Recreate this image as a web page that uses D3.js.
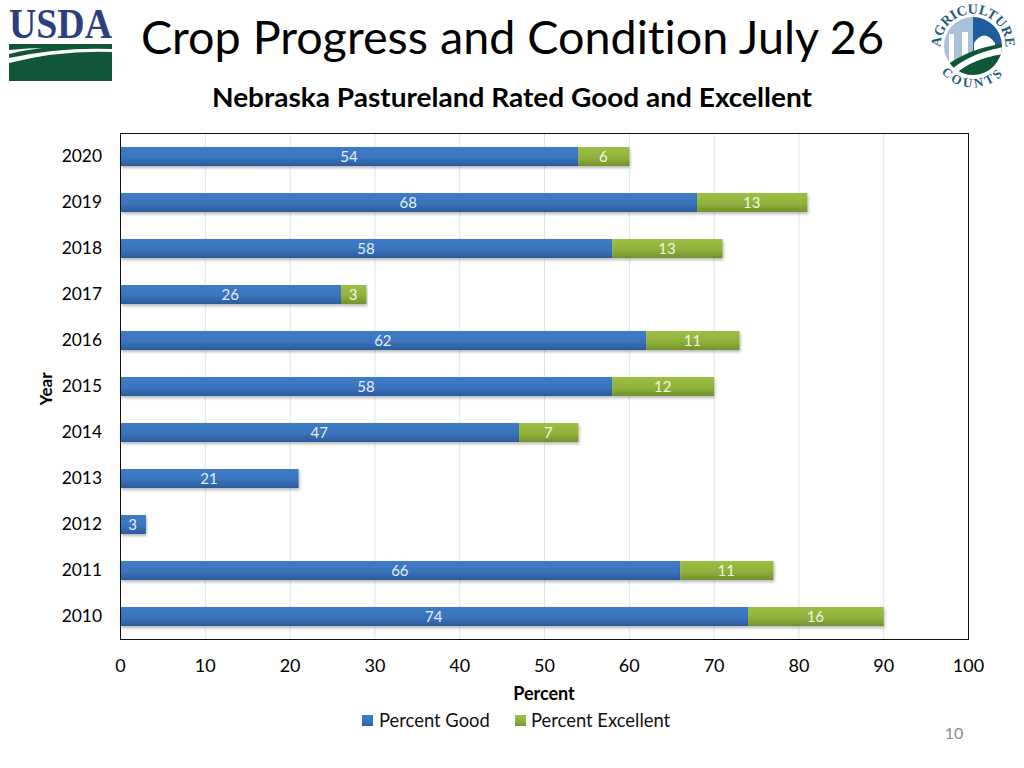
<!DOCTYPE html>
<html><head><meta charset="utf-8">
<script src="https://cdn.jsdelivr.net/npm/d3@7"></script>
<style>html,body{margin:0;padding:0;background:#fff}svg{display:block}text{font-family:Lato,"Open Sans",sans-serif;font-variant-ligatures:none}</style>
</head><body><div id="c"></div>
<script>
const years=["2020","2019","2018","2017","2016","2015","2014","2013","2012","2011","2010"];
const good=[54,68,58,26,62,58,47,21,3,66,74];
const excellent=[6,13,13,3,11,12,7,0,0,11,16];
const xTicks=[0,10,20,30,40,50,60,70,80,90,100];
const titleText="Crop Progress and Condition July 26";
const subtitleText="Nebraska Pastureland Rated Good and Excellent";
const pageNumber="10";

const svg=d3.select("#c").append("svg").attr("width",1024).attr("height",768);
const defs=svg.append("defs");
function grad(id,stops){const g=defs.append("linearGradient").attr("id",id).attr("x1",0).attr("y1",0).attr("x2",0).attr("y2",1);
 stops.forEach(s=>g.append("stop").attr("offset",s[0]).attr("stop-color",s[1]));}
grad("gb",[[0,"#3f7cc6"],[0.55,"#3a74bd"],[1,"#2a5b9b"]]);
grad("gg",[[0,"#9cbf45"],[0.55,"#90b23c"],[1,"#71922d"]]);
const f=defs.append("filter").attr("id","sh").attr("x","-5%").attr("y","-30%").attr("width","110%").attr("height","170%");
f.append("feDropShadow").attr("dx",1).attr("dy",2).attr("stdDeviation",1.5).attr("flood-color","#000").attr("flood-opacity",0.28);

const x=d3.scaleLinear().domain([0,100]).range([120,968]);
const y=d3.scaleBand().domain(years).range([133.5,639.5]).paddingInner(27/46).paddingOuter(13.5/46);

// Titles
svg.append("text").attr("x",141).attr("y",54).attr("font-size",47).attr("fill","#000")
 .attr("textLength",743).attr("lengthAdjust","spacingAndGlyphs").text(titleText);
svg.append("text").attr("x",212).attr("y",107).attr("font-size",27).attr("font-weight",700).attr("fill","#000")
 .attr("textLength",600).attr("lengthAdjust","spacingAndGlyphs").text(subtitleText);

// Grid
svg.append("g").attr("transform","translate(0.5,0)").selectAll("line").data(xTicks.slice(1,-1)).join("line")
 .attr("x1",d=>x(d)).attr("x2",d=>x(d)).attr("y1",133).attr("y2",639).attr("stroke","#dce6ea").attr("stroke-width",1);

// Bars
const rows=years.map((k,i)=>({k,g:good[i],e:excellent[i]}));
const bars=svg.append("g").attr("transform","translate(0.5,0)");
bars.selectAll("rect.g").data(rows).join("rect").attr("class","g")
 .attr("x",x(0)).attr("y",d=>y(d.k)).attr("width",d=>x(d.g)-x(0)).attr("height",y.bandwidth())
 .attr("fill","url(#gb)").attr("filter","url(#sh)");
bars.selectAll("rect.e").data(rows.filter(d=>d.e>0)).join("rect").attr("class","e")
 .attr("x",d=>x(d.g)).attr("y",d=>y(d.k)).attr("width",d=>x(d.g+d.e)-x(d.g)).attr("height",y.bandwidth())
 .attr("fill","url(#gg)").attr("filter","url(#sh)");
bars.selectAll("text.gl").data(rows).join("text").attr("class","gl")
 .attr("x",d=>x(d.g/2)-0.5).attr("y",d=>y(d.k)+y.bandwidth()/2+5.5).attr("text-anchor","middle")
 .attr("font-size",15).attr("fill","#e6eef8").text(d=>d.g);
bars.selectAll("text.el").data(rows.filter(d=>d.e>0)).join("text").attr("class","el")
 .attr("x",d=>x(d.g+d.e/2)-0.5).attr("y",d=>y(d.k)+y.bandwidth()/2+5.5).attr("text-anchor","middle")
 .attr("font-size",15).attr("fill","#f2f6e4").text(d=>d.e);

// Frame
svg.append("rect").attr("x",120.5).attr("y",133.5).attr("width",848).attr("height",506)
 .attr("fill","none").attr("stroke","#111").attr("stroke-width",1);

// Axes
const ax=svg.append("g").attr("transform","translate(0,639)")
 .call(d3.axisBottom(x).tickValues(xTicks).tickSize(0).tickPadding(20));
ax.select(".domain").remove();
ax.selectAll("text").attr("font-size",18).attr("fill","#000").style("font-family","Lato,sans-serif");
const ay=svg.append("g").attr("transform","translate(120,0)")
 .call(d3.axisLeft(y).tickSize(0).tickPadding(18));
ay.select(".domain").remove();
ay.selectAll("text").attr("font-size",17.4).attr("fill","#000").style("font-family","Lato,sans-serif");

svg.append("text").attr("transform","translate(52,389) rotate(-90)").attr("text-anchor","middle")
 .attr("font-size",17).attr("font-weight",700).text("Year");
svg.append("text").attr("x",544).attr("y",700).attr("text-anchor","middle")
 .attr("font-size",18).attr("font-weight",700).text("Percent");

// Legend
const legend=[["Percent Good","url(#gb)",362,379],["Percent Excellent","url(#gg)",515,531]];
legend.forEach(l=>{
 svg.append("rect").attr("x",l[2]).attr("y",715).attr("width",11).attr("height",11).attr("fill",l[1]);
 svg.append("text").attr("x",l[3]).attr("y",727).attr("font-size",18.4).attr("fill","#111").text(l[0]);
});
svg.append("text").attr("x",954).attr("y",739).attr("text-anchor","middle").attr("font-size",16).attr("fill","#8a8a8a").text(pageNumber);

// USDA logo
const u=svg.append("g");
u.append("text").attr("x",9).attr("y",38).attr("font-size",42).attr("font-weight",700)
 .attr("textLength",103).attr("lengthAdjust","spacingAndGlyphs")
 .style("font-family","'Liberation Serif',serif").attr("fill","#2b3f7f").text("USDA");
u.append("rect").attr("x",9).attr("y",44).attr("width",103).attr("height",37).attr("fill","#12563a");
u.append("path").attr("d","M9 58 Q60 47 112 49 L112 52 Q60 50 9 63 Z").attr("fill","#fff");
u.append("path").attr("d","M9 50 Q30 48 42 48 Q25 50 9 54 Z").attr("fill","#fff");

// Agriculture Counts logo
const a=svg.append("g").attr("transform","translate(973,46)");
defs.append("path").attr("id","arcT").attr("d","M-31 10 A32.5 32.5 0 1 1 31 10");
defs.append("path").attr("id","arcB").attr("d","M-36 20 A41 41 0 0 0 36 20");
const clip=defs.append("clipPath").attr("id","cc");
clip.append("circle").attr("r",29);
const ai=a.append("g").attr("clip-path","url(#cc)");
ai.append("rect").attr("x",-30).attr("y",-30).attr("width",30).attr("height",60).attr("fill","#a9c1da");
ai.append("rect").attr("x",0).attr("y",-30).attr("width",30).attr("height",40).attr("fill","#1f5c9e");
ai.append("path").attr("d","M-24 20V-12H-19V20ZM-11 20V-14H-5V20Z").attr("fill","#fff");
ai.append("path").attr("d","M1 14V-3Q11 -18 22 -3V8Z").attr("fill","#fff");
ai.append("path").attr("d","M-30 22 Q-4 2 30 -2 V1 Q-4 8 -22 24 Z").attr("fill","#12563a");
ai.append("path").attr("d","M-30 30 L-18 28 Q0 12 30 8 V30 Z").attr("fill","#12563a");
ai.append("path").attr("d","M-30 30 V24 L-22 24 Q-4 8 30 1 V8 Q0 12 -18 28 Z").attr("fill","#fff");
a.append("text").attr("font-size",14).attr("font-weight",700).style("font-family","'Liberation Serif',serif").attr("fill","#1f5c7e")
 .append("textPath").attr("href","#arcT").attr("startOffset","50%").attr("text-anchor","middle").text("AGRICULTURE");
a.append("text").attr("font-size",13).attr("font-weight",700).attr("letter-spacing",3).style("font-family","'Liberation Serif',serif").attr("fill","#1f5c7e")
 .append("textPath").attr("href","#arcB").attr("startOffset","50%").attr("text-anchor","middle").text("COUNTS");
</script></body></html>
